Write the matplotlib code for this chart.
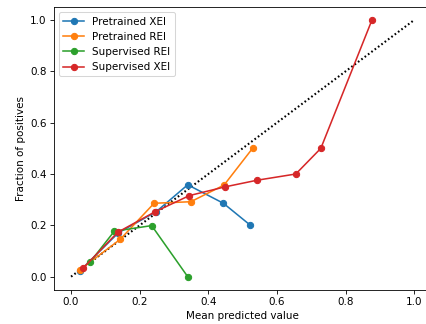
import matplotlib
matplotlib.use("Agg")
import matplotlib.pyplot as plt

pre_xei_x = [0.026, 0.138, 0.248, 0.340, 0.444, 0.523]
pre_xei_y = [0.023, 0.171, 0.253, 0.358, 0.286, 0.200]
pre_rei_x = [0.026, 0.143, 0.242, 0.349, 0.446, 0.529]
pre_rei_y = [0.027, 0.145, 0.286, 0.292, 0.357, 0.500]
sup_rei_x = [0.055, 0.126, 0.235, 0.340]
sup_rei_y = [0.056, 0.177, 0.199, 0.0]
sup_xei_x = [0.035, 0.136, 0.245, 0.345, 0.449, 0.543, 0.655, 0.728, 0.877]
sup_xei_y = [0.033, 0.173, 0.253, 0.316, 0.350, 0.376, 0.400, 0.500, 1.0]
diag = [0, 1]

dpi = 75
fig = plt.figure(figsize=(426 / dpi, 324 / dpi), dpi=dpi)
ax = fig.add_axes([53.9 / 426, (324 - 289.5) / 324, 377.4 / 426, 282.3 / 324])
ax.plot(diag, diag, color="k", lw=2, ls=(0, (0.8, 1.2)))
ax.plot(pre_xei_x, pre_xei_y, "o-", label="Pretrained XEI")
ax.plot(pre_rei_x, pre_rei_y, "o-", label="Pretrained REI")
ax.plot(sup_rei_x, sup_rei_y, "o-", label="Supervised REI")
ax.plot(sup_xei_x, sup_xei_y, "o-", label="Supervised XEI")
ax.set_xlabel("Mean predicted value")
ax.set_ylabel("Fraction of positives")
ax.legend(loc="upper left")
fig.savefig("out.png", dpi=dpi)
